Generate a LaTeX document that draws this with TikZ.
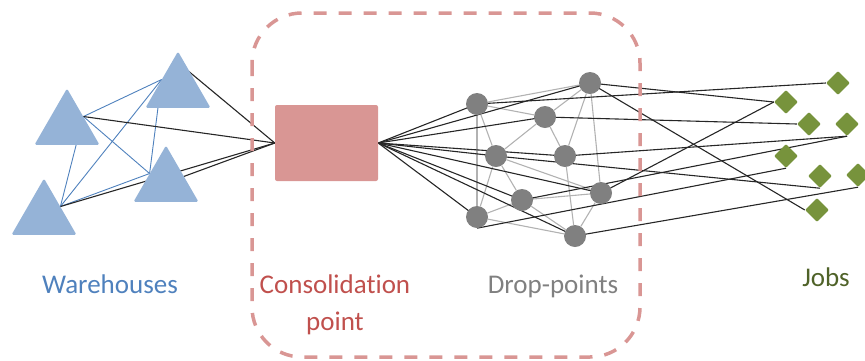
\documentclass[tikz,border=0pt]{standalone}
\usepackage{fontspec}
\setmainfont{Carlito}[Ligatures=NoCommon]
\usetikzlibrary{calc, shapes.geometric, backgrounds}

\definecolor{whblue}{HTML}{95B3D7}
\definecolor{lineblue}{HTML}{4F81BD}
\definecolor{conspink}{HTML}{D99694}
\definecolor{consred}{HTML}{C0504D}
\definecolor{dropgray}{HTML}{808080}
\definecolor{edgegray}{HTML}{B2B2B2}
\definecolor{jobgreen}{HTML}{77933C}
\definecolor{jobtext}{HTML}{4F6228}

\begin{document}
\begin{tikzpicture}[x=1pt, y=-1pt,
    warehouse/.style={regular polygon, regular polygon sides=3, fill=whblue,
      minimum size=75pt, inner sep=0pt, rounded corners=1.5pt},
    droppt/.style={circle, fill=dropgray, minimum size=22pt, inner sep=0pt},
    job/.style={diamond, fill=jobgreen, minimum size=24pt, inner sep=0pt, rounded corners=1pt},
    wlink/.style={line width=0.9pt, lineblue},
    dlink/.style={line width=1.1pt, edgegray},
    link/.style={line width=1.1pt, black!85},
    grouptext/.style={font=\fontsize{27}{37}\selectfont, anchor=base, align=center}]
      \useasboundingbox (0,0) rectangle (865,360);

      % --- Warehouses ---
      \node[warehouse] (w1) at (67,126) {};
      \node[warehouse] (w2) at (178,89) {};
      \node[warehouse] (w3) at (166,183) {};
      \node[warehouse] (w4) at (44,216) {};

      % --- Consolidation point ---
      \node[fill=conspink, minimum width=103pt, minimum height=76pt, inner sep=0pt,
        rounded corners=2pt] (cons) at (326.5,143) {};

      % --- Drop-points ---
      \node[droppt] (d1) at (477,104) {};
      \node[droppt] (d2) at (590,83) {};
      \node[droppt] (d3) at (545,117) {};
      \node[droppt] (d4) at (496,156) {};
      \node[droppt] (d5) at (565,156) {};
      \node[droppt] (d6) at (522,200) {};
      \node[droppt] (d7) at (601,193) {};
      \node[droppt] (d8) at (477,217) {};
      \node[droppt] (d9) at (575,236) {};

      % --- Jobs ---
      \node[job] (j1) at (838,83) {};
      \node[job] (j2) at (786,102) {};
      \node[job] (j3) at (809,124) {};
      \node[job] (j4) at (847,124) {};
      \node[job] (j5) at (786,156) {};
      \node[job] (j6) at (820,176) {};
      \node[job] (j7) at (858,175) {};
      \node[job] (j8) at (817,210) {};

      \begin{pgfonlayer}{background}
        % --- Links between warehouses ---
        \draw[wlink] (w1.side 3) -- (w2.side 1);
        \draw[wlink] (w1.side 3) -- (w3.side 1);
        \draw[wlink] (w1.side 3) -- (w4.side 3);
        \draw[wlink] (w2.side 1) -- (w4.side 3);
        \draw[wlink] (w2.side 1) -- (w3.side 1);
        \draw[wlink] (w3.side 1) -- (w4.side 3);

        % --- Warehouses to consolidation point ---
        \draw[link] (cons.west) -- (w1.side 3);
        \draw[link] (cons.west) -- ($(w2.corner 1)!0.2!(w2.side 2)$);
        \draw[link] (cons.west) -- (w3.center);
        \draw[link] (cons.west) -- (w4.side 3);

        % --- Links between drop-points ---
        \foreach \a/\b in {1/2,1/3,1/4,1/8,2/3,2/5,2/7,3/4,3/5,4/6,4/7,4/8,5/9,6/7,6/8,6/9,7/9,8/9}
          \draw[dlink] (d\a) -- (d\b);

        % --- Consolidation point to drop-points ---
        \foreach \d in {1,...,9}
          \draw[link] (cons.east) -- (d\d.center);

        % --- Drop-points to jobs ---
        \draw[link] (d1.center) -- (j1.west);
        \draw[link] (d2.center) -- (j2.west);
        \draw[link] (d2.center) -- (j8.west);
        \draw[link] (d3.center) -- (j3.west);
        \draw[link] (d4.center) -- (j6.south);
        \draw[link] (d5.center) -- (j4.south);
        \draw[link] (d6.center) -- (j4.south);
        \draw[link] (d7.center) -- (j2.west);
        \draw[link] (d8.south) -- (j5.south);
        \draw[link] (d9.center) -- (j7.south);
      \end{pgfonlayer}

      % --- Dashed frame ---
      \draw[conspink, line width=3.5pt, dash pattern=on 13pt off 12pt, rounded corners=50pt]
        (252,13) rectangle (640,357);

      % --- Labels ---
      \node[grouptext, text=lineblue] (whtext) at (110,293) {Warehouses};
      \node[grouptext, text=consred] (constext) at (335,330) {Consolidation\\point};
      \node[grouptext, text=dropgray] (droptext) at (553,293) {Drop-points};
      \node[grouptext, text=jobtext] (jobtext) at (826,286) {Jobs};
\end{tikzpicture}
\end{document}
